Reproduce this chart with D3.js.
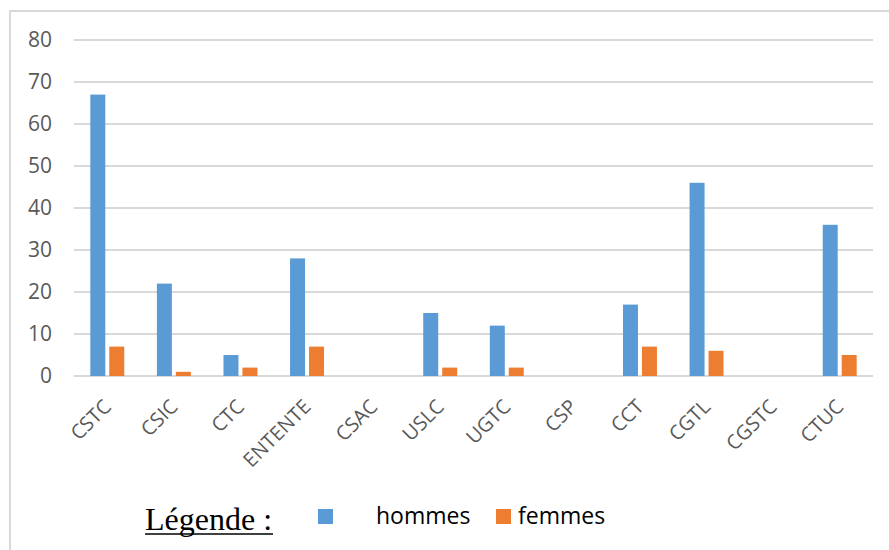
<!DOCTYPE html>
<html>
<head>
<meta charset="utf-8">
<script src="https://cdn.jsdelivr.net/npm/d3@7"></script>
<style>
  body { margin: 0; background: #fff; }
  svg { display: block; }
</style>
</head>
<body>
<div id="visContainer"></div>
<script>
'use strict';

// categories (syndicats) and the two series
const categories = ["CSTC", "CSIC", "CTC", "ENTENTE", "CSAC", "USLC",
  "UGTC", "CSP", "CCT", "CGTL", "CGSTC", "CTUC"];
const hommes = [67, 22, 5, 28, 0, 15, 12, 0, 17, 46, 0, 36];
const femmes = [7, 1, 2, 7, 0, 2, 2, 0, 7, 6, 0, 5];
const seriesNames = ["hommes", "femmes"];
const yTicks = [0, 10, 20, 30, 40, 50, 60, 70, 80];

const colors = {hommes: "#5B9BD5", femmes: "#ED7D31"};

var svg = d3.select('#visContainer')
    .append('svg')
    .attr('width', 889)
    .attr('height', 550);

// outer frame (only top and left visible in the picture)
svg.append('rect')
    .attr('x', 10).attr('y', 11)
    .attr('width', 900).attr('height', 600)
    .attr('fill', 'none')
    .attr('stroke', '#D9D9D9')
    .attr('stroke-width', 2);

var plot = {left: 74, right: 873, top: 40, bottom: 376};

var x0 = d3.scaleBand().domain(categories).range([plot.left, plot.right]);
var x1 = d3.scaleBand().domain(seriesNames)
    .range([0, x0.bandwidth()])
    .paddingInner(0.21)
    .paddingOuter(0.86);
var y = d3.scaleLinear().domain([0, 80]).range([plot.bottom, plot.top]);

// gridlines
svg.append('g')
  .selectAll('line')
  .data(yTicks)
  .join('line')
    .attr('x1', plot.left).attr('x2', plot.right)
    .attr('y1', d => y(d)).attr('y2', d => y(d))
    .attr('stroke', '#D9D9D9')
    .attr('stroke-width', 2);

// y axis labels
var yAxis = svg.append('g')
    .attr('transform', 'translate(' + (plot.left - 22) + ',0)')
    .call(d3.axisLeft(y).tickValues(yTicks).tickSize(0).tickPadding(0));
yAxis.select('.domain').remove();
yAxis.selectAll('text')
    .attr('fill', '#595959')
    .style('font-family', '"Open Sans", sans-serif')
    .style('font-size', '21px');

// bars
var rows = categories.map((c, i) => ({name: c, hommes: hommes[i], femmes: femmes[i]}));
var groups = svg.append('g')
  .selectAll('g')
  .data(rows)
  .join('g')
    .attr('transform', d => 'translate(' + x0(d.name) + ',0)');

groups.selectAll('rect')
  .data(d => seriesNames.map(s => ({key: s, value: d[s]})).filter(v => v.value > 0))
  .join('rect')
    .attr('x', d => x1(d.key))
    .attr('y', d => y(d.value))
    .attr('width', x1.bandwidth())
    .attr('height', d => y(0) - y(d.value))
    .attr('fill', d => colors[d.key]);

// x axis labels, rotated
var xAxis = svg.append('g')
    .attr('transform', 'translate(0,' + plot.bottom + ')')
    .call(d3.axisBottom(x0).tickSize(0).tickPadding(0));
xAxis.select('.domain').remove();
xAxis.selectAll('text')
    .attr('fill', '#595959')
    .style('font-family', '"Open Sans", sans-serif')
    .style('font-size', '20px')
    .attr('text-anchor', 'end')
    .attr('dy', null)
    .attr('y', 0)
    .attr('transform', 'translate(5,32) rotate(-45)');

// legend
var legend = svg.append('g');
legend.append('text')
    .attr('x', 145).attr('y', 530)
    .style('font-family', '"Liberation Serif", "Times New Roman", serif')
    .style('font-size', '32px')
    .attr('fill', '#000')
    .text('Légende :');
legend.append('line')
    .attr('x1', 145).attr('x2', 273)
    .attr('y1', 534).attr('y2', 534)
    .attr('stroke', '#000').attr('stroke-width', 1.5);

var legendItems = [
  {key: 'hommes', sx: 318, tx: 376},
  {key: 'femmes', sx: 496, tx: 518}
];
legendItems.forEach(function(it) {
  legend.append('rect')
      .attr('x', it.sx).attr('y', 509)
      .attr('width', 15).attr('height', 15)
      .attr('fill', colors[it.key]);
  legend.append('text')
      .attr('x', it.tx).attr('y', 524)
      .style('font-family', '"Open Sans", sans-serif')
      .style('font-size', '23px')
      .attr('fill', '#000')
      .text(it.key);
});
</script>
</body>
</html>
